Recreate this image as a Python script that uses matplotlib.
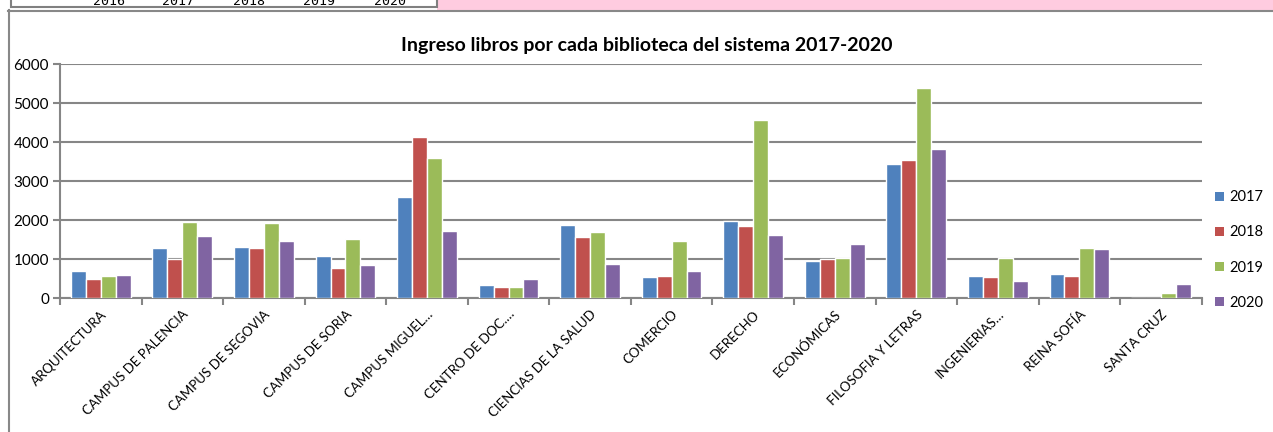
import matplotlib
matplotlib.use("Agg")
import matplotlib.pyplot as plt
import numpy as np
from matplotlib.patches import Rectangle
from matplotlib.lines import Line2D

plt.rcParams['font.family'] = ['Lato', 'DejaVu Sans']

categories = ["ARQUITECTURA", "CAMPUS DE PALENCIA", "CAMPUS DE SEGOVIA", "CAMPUS DE SORIA",
              "CAMPUS MIGUEL…", "CENTRO DE DOC.…", "CIENCIAS DE LA SALUD", "COMERCIO",
              "DERECHO", "ECONÓMICAS", "FILOSOFIA Y LETRAS", "INGENIERIAS…",
              "REINA SOFÍA", "SANTA CRUZ"]
v2017 = [710, 1280, 1320, 1075, 2600, 335, 1885, 555, 1990, 965, 3430, 570, 630, 0]
v2018 = [505, 1000, 1295, 770, 4120, 300, 1560, 570, 1850, 1000, 3550, 555, 580, 0]
v2019 = [565, 1955, 1920, 1520, 3595, 300, 1700, 1460, 4575, 1040, 5375, 1040, 1295, 145]
v2020 = [590, 1585, 1475, 855, 1725, 485, 880, 690, 1630, 1380, 3830, 445, 1255, 360]
series_names = ["2017", "2018", "2019", "2020"]
top_labels = ["2016", "2017", "2018", "2019", "2020"]
title = "Ingreso libros por cada biblioteca del sistema 2017-2020"

colors = ["#4F81BD", "#C0504D", "#9BBB59", "#8064A2"]
W, H = 1273, 432
fig = plt.figure(figsize=(W / 100, H / 100), dpi=100)

def fx(px):
    return px / W

def fy(py):
    return 1 - py / H

# top strip
fig.patches.append(Rectangle((fx(437), fy(10)), 1 - fx(437), fy(0) - fy(10), transform=fig.transFigure,
                             facecolor="#FFCCE0", edgecolor="none", zorder=0))
fig.patches.append(Rectangle((fx(11), fy(7)), fx(437) - fx(11), fy(-5) - fy(7), transform=fig.transFigure,
                             facecolor="white", edgecolor="#808080", linewidth=1.5, zorder=1))
for lab, xp in zip(top_labels, [109, 178, 249, 319, 390]):
    fig.text(fx(xp), fy(5), lab, ha="center", va="baseline", fontsize=9.5, family="DejaVu Sans Mono")
# chart frame
fig.lines.append(Line2D([fx(8), 1], [fy(10.5), fy(10.5)], transform=fig.transFigure, color="#888888", lw=1.5))
fig.lines.append(Line2D([fx(8.5), fx(8.5)], [fy(10), 0], transform=fig.transFigure, color="#888888", lw=1.5))

ax = fig.add_axes([fx(60), fy(298.3), fx(1201.7) - fx(60), fy(64) - fy(298.3)])
x = np.arange(len(categories))
slot = 0.183
data = [v2017, v2018, v2019, v2020]
for i, (vals, c, name) in enumerate(zip(data, colors, series_names)):
    ax.bar(x + (i - 1.5) * slot, vals, width=slot, color=c, edgecolor="white", linewidth=1.0,
           label=name, zorder=3)

ax.set_xlim(-0.5, len(categories) - 0.5)
ax.set_ylim(0, 6000)
ax.set_yticks(range(0, 6001, 1000))
ax.yaxis.grid(True, color="#868686", linewidth=1.5, zorder=0)
ax.set_axisbelow(True)
ax.set_xticks(np.arange(-0.5, len(categories), 1.0))
ax.set_xticklabels([])
ax.set_xticks(x, minor=True)
ax.set_xticklabels(categories, minor=True, rotation=45, ha="right", va="top",
                   rotation_mode="anchor", fontsize=9.5)
ax.tick_params(axis="x", which="minor", length=0, pad=7)
ax.tick_params(axis="x", which="major", length=5, width=1.5, color="#868686")
ax.tick_params(axis="y", length=5, width=1.5, color="#868686", labelsize=11, pad=3)
for s in ["top", "right"]:
    ax.spines[s].set_visible(False)
for s in ["left", "bottom"]:
    ax.spines[s].set_color("#868686")
    ax.spines[s].set_linewidth(1.5)
ax.set_facecolor("none")

fig.text(fx(647), fy(45), title, ha="center", va="center", fontsize=14, fontweight="bold")

handles = [Rectangle((0, 0), 1, 1, facecolor=c, edgecolor="none") for c in colors]
leg = fig.legend(handles, series_names, loc="center left", bbox_to_anchor=(fx(1202), fy(250)),
                 frameon=False, fontsize=10.5, handlelength=0.6, handleheight=0.6,
                 handletextpad=0.35, labelspacing=1.45)

fig.savefig("out.png", dpi=100)
